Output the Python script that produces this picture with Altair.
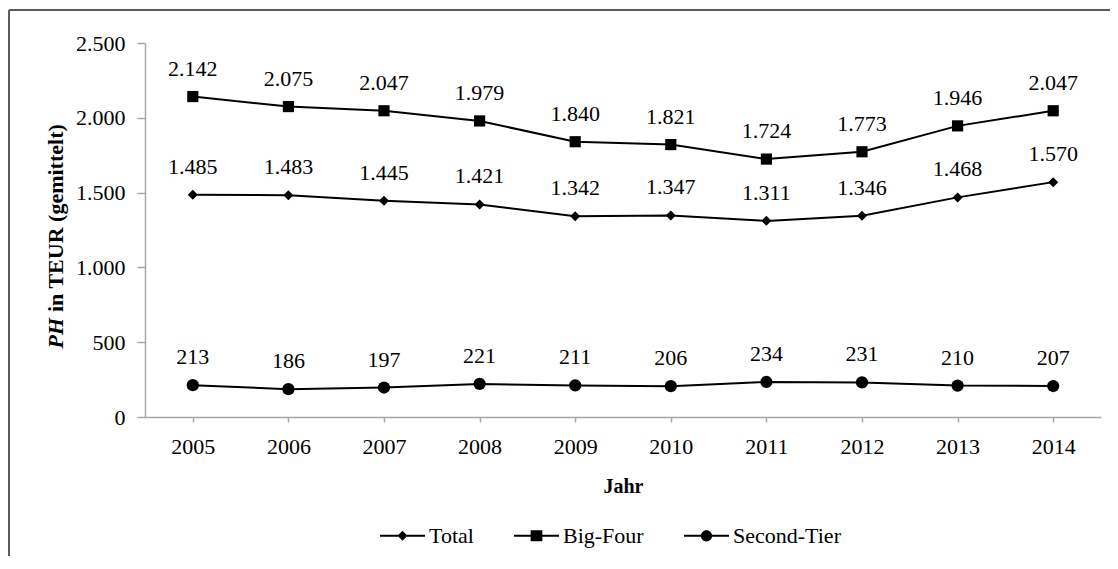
import altair as alt
import pandas as pd

# ---------------- data ----------------
years = ["2005", "2006", "2007", "2008", "2009", "2010", "2011", "2012", "2013", "2014"]
total = [1485, 1483, 1445, 1421, 1342, 1347, 1311, 1346, 1468, 1570]
big_four = [2142, 2075, 2047, 1979, 1840, 1821, 1724, 1773, 1946, 2047]
second_tier = [213, 186, 197, 221, 211, 206, 234, 231, 210, 207]
series_names = ["Total", "Big-Four", "Second-Tier"]
y_ticks = [0, 500, 1000, 1500, 2000, 2500]
y_title_italic = "PH"
y_title_rest = "in TEUR (gemittelt)"
x_title = "Jahr"

rows = []
for name, vals in zip(series_names, [total, big_four, second_tier]):
    for yr, v in zip(years, vals):
        rows.append({"Jahr": yr, "Wert": v, "Serie": name})
df = pd.DataFrame(rows)

W, H = 956, 374
FONT = "Liberation Serif"
AXIS_GRAY = "#a6a6a6"

x_enc = alt.X(
    "Jahr:O",
    sort=years,
    scale=alt.Scale(type="point", padding=0.5),
    axis=alt.Axis(
        title=x_title,
        labelAngle=0,
        labelFont=FONT,
        labelFontSize=22,
        labelColor="black",
        labelPadding=14,
        tickSize=5,
        tickColor=AXIS_GRAY,
        domainColor=AXIS_GRAY,
        domainWidth=1.5,
        tickWidth=1.5,
        titleFont=FONT,
        titleFontSize=20,
        titleFontWeight="bold",
        titleColor="black",
        titlePadding=19,
        grid=False,
    ),
)
y_enc = alt.Y(
    "Wert:Q",
    scale=alt.Scale(domain=[0, 2500], nice=False, zero=True),
    axis=alt.Axis(
        title=None,
        values=y_ticks,
        labelExpr="replace(format(datum.value, ','), ',', '.')",
        labelFont=FONT,
        labelFontSize=22,
        labelColor="black",
        labelPadding=12,
        tickSize=8,
        tickColor=AXIS_GRAY,
        domainColor=AXIS_GRAY,
        domainWidth=1.5,
        tickWidth=1.5,
        grid=False,
    ),
)

base = alt.Chart(df)

lines = base.mark_line(color="black", strokeWidth=2).encode(
    x=x_enc, y=y_enc, detail="Serie:N"
)

points = base.mark_point(filled=True, color="black", opacity=1).encode(
    x=x_enc,
    y=y_enc,
    shape=alt.Shape(
        "Serie:N",
        scale=alt.Scale(domain=series_names, range=["diamond", "square", "circle"]),
        legend=None,
    ),
    size=alt.Size(
        "Serie:O",
        scale=alt.Scale(domain=series_names, range=[100, 150, 125]),
        legend=None,
    ),
)

labels = (
    base.transform_calculate(label="replace(format(datum.Wert, ','), ',', '.')")
    .mark_text(font=FONT, fontSize=22, color="black", dy=-28, baseline="middle")
    .encode(x=x_enc, y=y_enc, text="label:N")
)

# legend symbols: horizontal line bar + marker, as custom paths
bar = "M-1,-0.045H1V0.045H-1Z"
legend_paths = [
    bar + "M0,-0.22L0.22,0L0,0.22L-0.22,0Z",
    bar + "M-0.26,-0.24H0.26V0.24H-0.26Z",
    bar + "M-0.25,0A0.25,0.25,0,1,1,0.25,0A0.25,0.25,0,1,1,-0.25,0Z",
]
legend_layer = base.mark_point(filled=True, color="black", opacity=1, size=2025).encode(
    x=x_enc,
    y=alt.value(-3000),
    shape=alt.Shape(
        "Serie:N",
        scale=alt.Scale(domain=series_names, range=legend_paths),
        legend=alt.Legend(
            title=None,
            orient="none",
            legendX=235,
            legendY=470,
            direction="horizontal",
            columns=3,
            symbolSize=2025,
            symbolFillColor="black",
            symbolStrokeWidth=0,
            symbolOpacity=1,
            labelFont=FONT,
            labelFontSize=22,
            labelColor="black",
            labelOffset=4,
            columnPadding=40,
            padding=0,
        ),
    ),
)

one = pd.DataFrame({"k": [0]})
split_y = 275
title_a = alt.Chart(one).mark_text(
    text=y_title_italic, font=FONT, fontSize=22, fontWeight="bold", fontStyle="italic",
    angle=270, align="right", baseline="middle", color="black",
).encode(x=alt.value(-89), y=alt.value(split_y))
title_b = alt.Chart(one).mark_text(
    text=y_title_rest, font=FONT, fontSize=22, fontWeight="bold",
    angle=270, align="left", baseline="middle", color="black",
).encode(x=alt.value(-89), y=alt.value(split_y - 6))

border_left = alt.Chart(one).mark_rule(color="#5a5a5a", strokeWidth=2).encode(
    x=alt.value(-136), y=alt.value(-33), y2=alt.value(H + 200)
)
border_top = alt.Chart(one).mark_rule(color="#5a5a5a", strokeWidth=2).encode(
    x=alt.value(-136), x2=alt.value(W + 30), y=alt.value(-33)
)

chart = (
    alt.layer(border_left, border_top, lines, points, labels, legend_layer, title_a, title_b)
    .resolve_scale(shape="independent", size="independent")
    .properties(
        width=W,
        height=H,
        autosize=alt.AutoSizeParams(type="none"),
        padding={"left": 137, "top": 35, "right": 9, "bottom": 139},
        background="white",
    )
    .configure_view(stroke=None)
)

chart.save("out.html", embed_options={"renderer": "svg", "actions": False})
